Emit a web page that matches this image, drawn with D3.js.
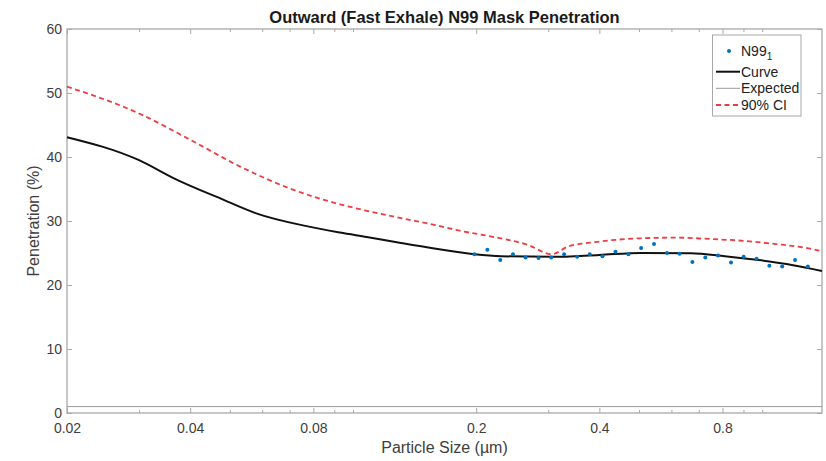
<!DOCTYPE html>
<html>
<head>
<meta charset="utf-8">
<script src="https://cdn.jsdelivr.net/npm/d3@7"></script>
<style>
  html, body { margin: 0; padding: 0; background: #fff; }
  svg text { font-family: "Liberation Sans", Arial, Helvetica, sans-serif; }
</style>
</head>
<body>
<svg id="chart" width="826" height="461"></svg>
<script>
// ---- data ----
const sizes = [0.198, 0.213, 0.229, 0.246, 0.264, 0.284, 0.305, 0.328, 0.353, 0.379,
               0.407, 0.438, 0.471, 0.506, 0.544, 0.585, 0.628, 0.675, 0.726, 0.780,
               0.839, 0.901, 0.969, 1.041, 1.119, 1.203, 1.293];
const penetration = [24.8, 25.5, 23.9, 24.8, 24.3, 24.2, 24.3, 24.8, 24.4, 24.8,
                     24.5, 25.2, 24.8, 25.8, 26.4, 25.0, 24.9, 23.6, 24.3, 24.6,
                     23.5, 24.4, 24.1, 23.0, 22.9, 23.9, 22.9];

const curveX = [0.02, 0.03, 0.0364, 0.0483, 0.058, 0.077, 0.093, 0.108, 0.13, 0.158, 0.198,
                0.23, 0.306, 0.40, 0.506, 0.67, 0.81, 0.98, 1.19, 1.4];
const curveY = [43.1, 39.5, 36.7, 33.3, 31.2, 29.2, 28.2, 27.5, 26.6, 25.7, 24.8,
                24.5, 24.4, 24.7, 25.0, 24.95, 24.5, 23.9, 23.1, 22.2];

const ciX = [0.02, 0.03, 0.040, 0.053, 0.070, 0.093, 0.108, 0.13, 0.158, 0.185, 0.221,
             0.268, 0.306, 0.335, 0.39, 0.506, 0.62, 0.74, 0.9, 1.08, 1.25, 1.4];
const ciY = [51.0, 46.8, 42.7, 38.5, 35.1, 32.6, 31.6, 30.5, 29.4, 28.4, 27.5,
             26.25, 24.8, 26.0, 26.7, 27.3, 27.4, 27.2, 26.9, 26.4, 25.9, 25.3];

const expectedX = [0.02, 1.4];
const expectedY = [1, 1];

const xMajor = [0.02, 0.04, 0.08, 0.2, 0.4, 0.8];
const xMajorLabels = ["0.02", "0.04", "0.08", "0.2", "0.4", "0.8"];
const yTicks = [0, 10, 20, 30, 40, 50, 60];

const title = "Outward (Fast Exhale) N99 Mask Penetration";
const xLabel = "Particle Size (\u00B5m)";
const yLabel = "Penetration (%)";
const legendNames = ["Curve", "Expected", "90% CI"];

// ---- layout ----
const svg = d3.select("#chart");
const L = 67, R = 822, T = 29, B = 413;
const x = d3.scaleLog().domain([0.02, 1.4]).range([L, R]);
const y = d3.scaleLinear().domain([0, 60]).range([B, T]);

const axisColor = "#a9a9a9";
const labelColor = "#404040";
const redColor = "#ec3d42";

const isMajor = v => xMajor.some(m => Math.abs(m - v) < 1e-9);
const xMinor = x.ticks().filter(v => !isMajor(v));

// frame
svg.append("rect").attr("x", L).attr("y", T).attr("width", R - L).attr("height", B - T)
  .attr("fill", "none").attr("stroke", axisColor).attr("stroke-width", 1.3);

function styleAxis(g) {
  g.select(".domain").remove();
  g.selectAll(".tick line").attr("stroke", axisColor).attr("stroke-width", 1);
  g.selectAll(".tick text").attr("fill", labelColor).attr("font-size", 14);
}

// bottom axis
svg.append("g").attr("transform", `translate(0,${B})`)
  .call(d3.axisBottom(x).tickValues(xMajor).tickSize(-5).tickPadding(10)
    .tickFormat((d, i) => xMajorLabels[i]))
  .call(styleAxis);
svg.append("g").attr("transform", `translate(0,${B})`)
  .call(d3.axisBottom(x).tickValues(xMinor).tickSize(-3).tickFormat(""))
  .call(styleAxis);
// top axis
svg.append("g").attr("transform", `translate(0,${T})`)
  .call(d3.axisTop(x).tickValues(xMajor).tickSize(-5).tickFormat(""))
  .call(styleAxis);
svg.append("g").attr("transform", `translate(0,${T})`)
  .call(d3.axisTop(x).tickValues(xMinor).tickSize(-3).tickFormat(""))
  .call(styleAxis);
// left axis
svg.append("g").attr("transform", `translate(${L},0)`)
  .call(d3.axisLeft(y).tickValues(yTicks).tickSize(-5).tickPadding(5))
  .call(styleAxis);
// right axis
svg.append("g").attr("transform", `translate(${R},0)`)
  .call(d3.axisRight(y).tickValues(yTicks).tickSize(-5).tickFormat(""))
  .call(styleAxis);

// lines
const plot = svg.append("g");
const zip = (xs, ys) => xs.map((v, i) => [v, ys[i]]);

plot.append("path").datum(zip(expectedX, expectedY))
  .attr("fill", "none").attr("stroke", "#9a9a9a").attr("stroke-width", 1)
  .attr("d", d3.line().x(d => x(d[0])).y(d => y(d[1])));

plot.append("path").datum(zip(ciX, ciY))
  .attr("fill", "none").attr("stroke", redColor).attr("stroke-width", 1.8)
  .attr("stroke-dasharray", "5,3.5")
  .attr("d", d3.line().x(d => x(d[0])).y(d => y(d[1])).curve(d3.curveMonotoneX));

plot.append("path").datum(zip(curveX, curveY))
  .attr("fill", "none").attr("stroke", "#111").attr("stroke-width", 2)
  .attr("d", d3.line().x(d => x(d[0])).y(d => y(d[1])).curve(d3.curveMonotoneX));

plot.selectAll("circle.pt").data(zip(sizes, penetration)).enter().append("circle")
  .attr("class", "pt")
  .attr("cx", d => x(d[0])).attr("cy", d => y(d[1])).attr("r", 2)
  .attr("fill", "#0072BD");

// titles
svg.append("text").attr("x", (L + R) / 2).attr("y", 22.5).attr("text-anchor", "middle")
  .attr("font-size", 16.5).attr("font-weight", "bold").attr("fill", "#1a1a1a").text(title);
svg.append("text").attr("x", (L + R) / 2).attr("y", 453).attr("text-anchor", "middle")
  .attr("font-size", 16).attr("fill", labelColor).text(xLabel);
svg.append("text").attr("transform", `translate(39,${(T + B) / 2}) rotate(-90)`)
  .attr("text-anchor", "middle").attr("font-size", 16).attr("fill", labelColor).text(yLabel);

// legend
const lg = svg.append("g").attr("transform", "translate(712.5,35)");
lg.append("rect").attr("width", 88.5).attr("height", 81).attr("fill", "#fff")
  .attr("stroke", "#a8a8a8").attr("stroke-width", 1);
const rowsY = [16, 36.7, 53.3, 70];
const textX = 28.5;
lg.append("circle").attr("cx", 16.5).attr("cy", rowsY[0]).attr("r", 2).attr("fill", "#0072BD");
lg.append("line").attr("x1", 3.5).attr("x2", 27.5).attr("y1", rowsY[1]).attr("y2", rowsY[1])
  .attr("stroke", "#111").attr("stroke-width", 2);
lg.append("line").attr("x1", 3.5).attr("x2", 27.5).attr("y1", rowsY[2]).attr("y2", rowsY[2])
  .attr("stroke", "#9a9a9a").attr("stroke-width", 1);
lg.append("line").attr("x1", 3.5).attr("x2", 27.5).attr("y1", rowsY[3]).attr("y2", rowsY[3])
  .attr("stroke", redColor).attr("stroke-width", 1.8).attr("stroke-dasharray", "5,3.5");
const n99 = lg.append("text").attr("x", textX).attr("y", rowsY[0] + 5).attr("font-size", 14).attr("fill", "#222");
n99.append("tspan").text("N99");
n99.append("tspan").attr("font-size", 10).attr("dy", 4).text("1");
legendNames.forEach((t, i) => {
  lg.append("text").attr("x", textX).attr("y", rowsY[i + 1] + 5).attr("font-size", 14)
    .attr("fill", "#222").text(t);
});
</script>
</body>
</html>
